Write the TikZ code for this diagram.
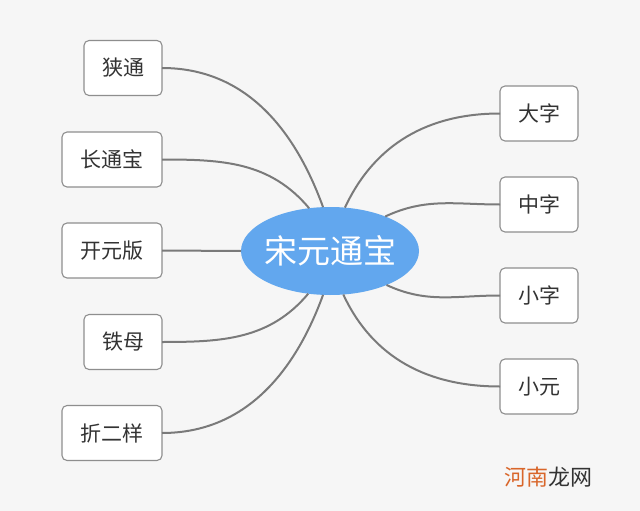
\documentclass[tikz,border=0pt]{standalone}
\usepackage{fontspec}
\setmainfont{Noto Sans CJK SC}
\usepackage{tikz}
\usetikzlibrary{shapes.geometric,positioning}
\definecolor{bgcol}{HTML}{F6F6F6}
\definecolor{rootcol}{HTML}{62A7EE}
\definecolor{linkcol}{HTML}{7A7A7A}
\definecolor{boxcol}{HTML}{8E8E8E}
\definecolor{markcol}{HTML}{D9662A}
\begin{document}
\begin{tikzpicture}[x=1pt,y=-1pt]
\tikzstyle{every node}+=[inner sep=0pt,outer sep=0pt]
\tikzstyle{leaf}=[draw=boxcol,line width=1.1pt,fill=white,rounded corners=5pt,minimum height=55pt,font=\fontsize{21}{24}\selectfont,text=black!80]
\tikzstyle{link}=[draw=linkcol,line width=2pt]
\fill [bgcol] (0,0) rectangle (640,511);
\useasboundingbox (0,0) rectangle (640,511);
\node [ellipse,fill=rootcol,inner xsep=-5pt,minimum width=178pt,minimum height=88pt,text=white,font=\fontsize{33}{36}\selectfont] (root) at (330,251) {宋元通宝};
\node [leaf,minimum width=78pt] (xt) at (123,68) {狭通};
\node [leaf,minimum width=100pt] (ctb) at (112,159.5) {长通宝};
\node [leaf,minimum width=100pt] (kyb) at (112,250.5) {开元版};
\node [leaf,minimum width=78pt] (tm) at (123,342) {铁母};
\node [leaf,minimum width=100pt] (zey) at (112,433) {折二样};
\node [leaf,minimum width=78pt] (dz) at (539,113.5) {大字};
\node [leaf,minimum width=78pt] (zz) at (539,204.5) {中字};
\node [leaf,minimum width=78pt] (xz) at (539,295.5) {小字};
\node [leaf,minimum width=78pt] (xy) at (539,386.5) {小元};
\draw [link] (xt.east) to[out=0,in=110] (root.99);
\draw [link] (ctb.east) to[out=0,in=130] (root.116);
\draw [link] (kyb.east) -- (root.west);
\draw [link] (tm.east) to[out=0,in=-130] (root.-117);
\draw [link] (zey.east) to[out=0,in=-110] (root.-99);
\draw [link] (dz.west) to[out=180,in=65] (root.71);
\draw [link] (zz.west) to[out=180,in=25] (root.32);
\draw [link] (xz.west) to[out=180,in=-25] (root.-31);
\draw [link] (xy.west) to[out=180,in=-65] (root.-73);
\node [font=\fontsize{22}{24}\selectfont,anchor=west] (mark) at (504,477) {\textcolor{markcol}{河南}\textcolor{black!80}{龙网}};
\end{tikzpicture}
\end{document}
